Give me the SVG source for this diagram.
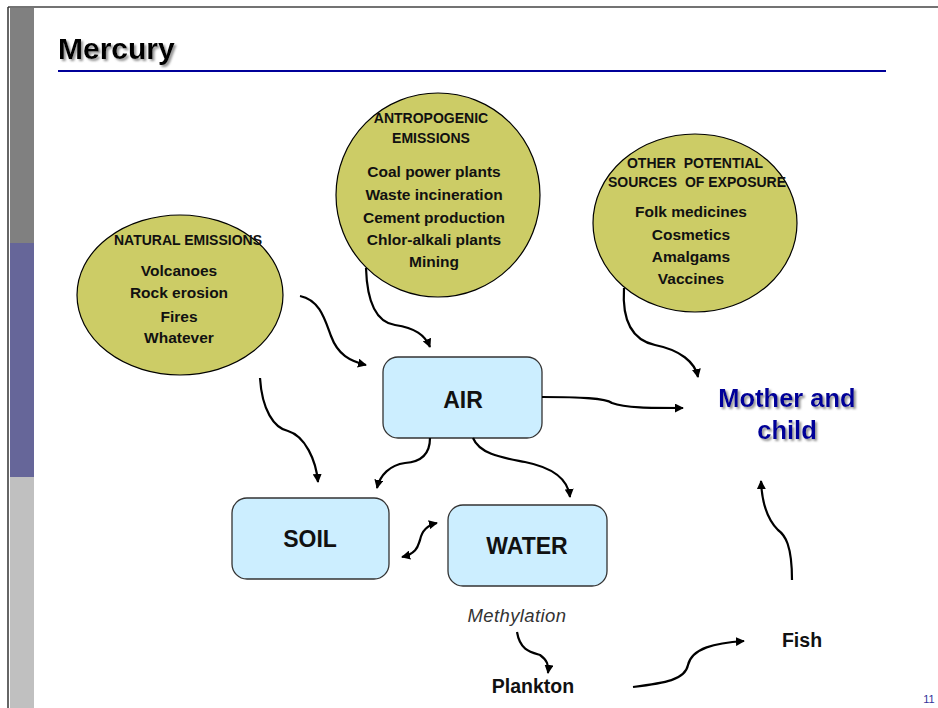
<svg xmlns="http://www.w3.org/2000/svg" width="938" height="708" viewBox="0 0 938 708">
<style>
.src{fill:#cccc66;stroke:#000;stroke-width:1.2}
.box{fill:#cceeff;stroke:#333;stroke-width:1.3}
.hd{font-family:"Liberation Sans",Arial,sans-serif;font-weight:bold;font-size:14px;fill:#111;text-anchor:middle;white-space:pre}
.it{font-family:"Liberation Sans",Arial,sans-serif;font-weight:bold;font-size:15.5px;fill:#111;text-anchor:middle}
.bx{font-family:"Liberation Sans",Arial,sans-serif;font-weight:bold;font-size:23px;fill:#111;text-anchor:middle}
.lbl{font-family:"Liberation Sans",Arial,sans-serif;font-weight:bold;font-size:19.5px;fill:#111;text-anchor:middle}
.con path{fill:none;stroke:#000;stroke-width:2.2}
</style>
<defs>
<marker id="ah" viewBox="0 0 10 10" refX="9" refY="5" markerWidth="9" markerHeight="9" markerUnits="userSpaceOnUse" orient="auto-start-reverse">
<path d="M0,0 L10,5 L0,10 z" fill="#000"/>
</marker>
<filter id="sh" x="-10%" y="-20%" width="130%" height="150%">
<feDropShadow dx="2" dy="2" stdDeviation="0.8" flood-color="#888" flood-opacity="0.9"/>
</filter>
</defs>
<rect width="938" height="708" fill="#fff"/>
<g id="frame">
<line x1="8" y1="7" x2="938" y2="7" stroke="#444" stroke-width="1.5"/>
<line x1="8" y1="7" x2="8" y2="708" stroke="#333" stroke-width="1.5"/>
<rect x="10" y="8" width="24" height="235" fill="#808080"/>
<rect x="10" y="243" width="24" height="234" fill="#666699"/>
<rect x="10" y="477" width="24" height="231" fill="#c0c0c0"/>
</g>
<g id="title">
<text x="58" y="59" font-family="Liberation Sans,Arial,sans-serif" font-weight="bold" font-size="30px" fill="#000" filter="url(#sh)">Mercury</text>
<line x1="58" y1="71" x2="886" y2="71" stroke="#000099" stroke-width="2"/>
</g>
<g id="natural">
<ellipse class="src" cx="180" cy="295" rx="103" ry="80"/>
<text class="hd" x="188" y="245">NATURAL EMISSIONS</text>
<text class="it" x="179" y="276">Volcanoes</text>
<text class="it" x="179" y="298">Rock erosion</text>
<text class="it" x="179" y="322">Fires</text>
<text class="it" x="179" y="343">Whatever</text>
</g>
<g id="antropogenic">
<ellipse class="src" cx="438" cy="195" rx="102" ry="102"/>
<text class="hd" x="431" y="123">ANTROPOGENIC</text>
<text class="hd" x="431" y="143">EMISSIONS</text>
<text class="it" x="434" y="177">Coal power plants</text>
<text class="it" x="434" y="200">Waste incineration</text>
<text class="it" x="434" y="223">Cement production</text>
<text class="it" x="434" y="245">Chlor-alkali plants</text>
<text class="it" x="434" y="267">Mining</text>
</g>
<g id="other">
<ellipse class="src" cx="695" cy="223" rx="102" ry="89"/>
<text class="hd" x="695" y="168">OTHER  POTENTIAL</text>
<text class="hd" x="697" y="187">SOURCES  OF EXPOSURE</text>
<text class="it" x="691" y="217">Folk medicines</text>
<text class="it" x="691" y="240">Cosmetics</text>
<text class="it" x="691" y="262">Amalgams</text>
<text class="it" x="691" y="284">Vaccines</text>
</g>
<g id="air">
<rect class="box" x="383" y="357" width="159" height="81" rx="15"/>
<text class="bx" x="463" y="408">AIR</text>
</g>
<g id="soil">
<rect class="box" x="232" y="498" width="157" height="81" rx="15"/>
<text class="bx" x="310" y="547">SOIL</text>
</g>
<g id="water">
<rect class="box" x="448" y="505" width="159" height="81" rx="15"/>
<text class="bx" x="527" y="554">WATER</text>
</g>
<g id="mother">
<text x="787" y="407" font-family="Liberation Sans,Arial,sans-serif" font-weight="bold" font-size="25.5px" fill="#000099" text-anchor="middle" filter="url(#sh)">Mother and</text>
<text x="787" y="439" font-family="Liberation Sans,Arial,sans-serif" font-weight="bold" font-size="25.5px" fill="#000099" text-anchor="middle" filter="url(#sh)">child</text>
</g>
<g id="methylation">
<text x="517" y="622" font-family="Liberation Sans,Arial,sans-serif" font-style="italic" font-size="18.5px" fill="#333" text-anchor="middle" letter-spacing="0.4">Methylation</text>
</g>
<g id="plankton">
<text class="lbl" x="533" y="693">Plankton</text>
</g>
<g id="fish">
<text class="lbl" x="802" y="647">Fish</text>
</g>
<g id="page">
<text x="929" y="703" font-family="Liberation Sans,Arial,sans-serif" font-size="11px" fill="#333399" text-anchor="middle">11</text>
</g>
<g id="connectors" class="con">
<path d="M300,296 C320,300 325,320 331,336 C338,355 350,361 366,365" marker-end="url(#ah)"/>
<path d="M260,378 C262,410 274,428 288,431 C305,436 316,460 318,482" marker-end="url(#ah)"/>
<path d="M366,268 C367,300 375,322 395,325 C415,328 425,335 430,347" marker-end="url(#ah)"/>
<path d="M624,288 C622,320 632,340 655,345 C680,350 695,362 698,377" marker-end="url(#ah)"/>
<path d="M542,397 C580,397 605,398 612,403 C625,408 650,408 683,408" marker-end="url(#ah)"/>
<path d="M430,438 C430,455 420,462 405,463 C390,465 380,475 377,488" marker-end="url(#ah)"/>
<path d="M473,438 C480,455 505,458 525,462 C550,467 568,478 570,497" marker-end="url(#ah)"/>
<path d="M402,557 C418,553 418,545 420,540 C422,530 428,525 437,523" marker-start="url(#ah)" marker-end="url(#ah)"/>
<path d="M517,632 C520,650 530,652 540,655 C547,660 549,665 548,673" marker-end="url(#ah)"/>
<path d="M633,687 C665,683 685,680 688,665 C692,648 715,643 744,641" marker-end="url(#ah)"/>
<path d="M792,580 C792,545 785,535 778,530 C768,520 762,505 761,481" marker-end="url(#ah)"/>
</g>
</svg>
